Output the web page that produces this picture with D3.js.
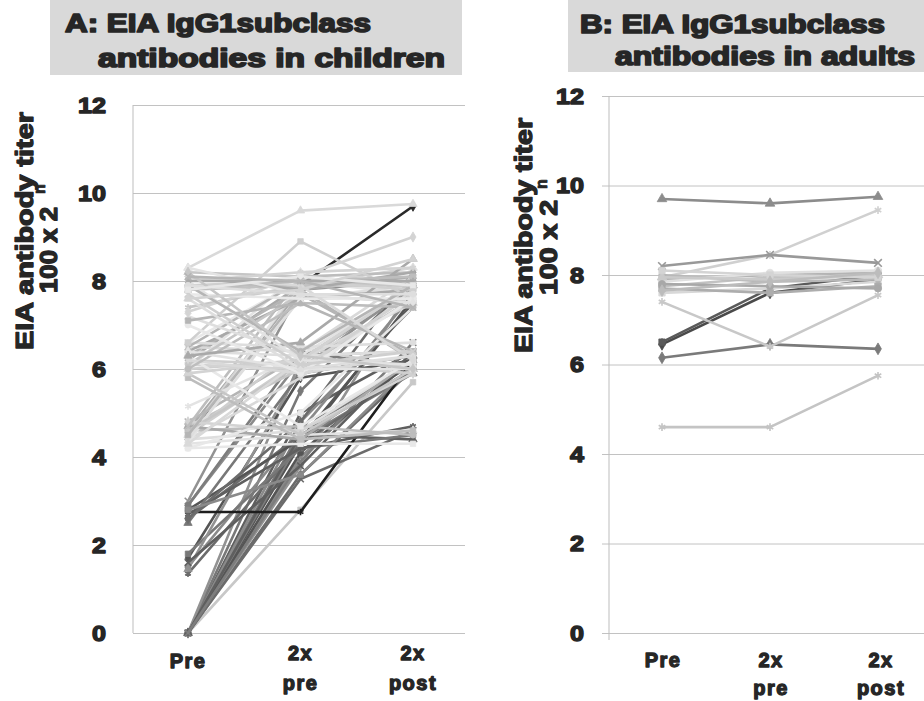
<!DOCTYPE html>
<html>
<head>
<meta charset="utf-8">
<script src="https://cdn.jsdelivr.net/npm/d3@7"></script>
<style>
  html, body { margin: 0; padding: 0; background: #fff; }
  svg { display: block; }
  text { font-family: "Liberation Sans", Arial, sans-serif; font-weight: bold; }
</style>
</head>
<body>
<svg id="chart" width="924" height="701"></svg>
<script>
// ---------------- DATA ----------------
const categories = ["Pre", "2x pre", "2x post"];
const categoryLines = [["Pre"], ["2x", "pre"], ["2x", "post"]];
const yTicks = [0, 2, 4, 6, 8, 10, 12];

const titleA = ["A: EIA IgG1subclass", "antibodies in children"];
const titleB = ["B: EIA IgG1subclass", "antibodies in adults"];
const yTitle = ["EIA antibody titer", "100 x 2", "n"];

// Children (panel A): one value per child at each time point
const childPre = [
  4.4,
  0, 0, 0, 0, 0, 0, 0, 0, 0, 0, 0, 0, 0, 0, 0,
  1.35, 1.5, 1.7, 1.8, 1.45, 1.6,
  2.75, 2.6, 2.9, 2.8, 2.5, 3.0, 2.7, 2.9, 2.6, 2.8,
  4.3, 4.5, 4.6, 4.4, 4.7, 4.2, 4.5, 4.8, 4.4, 4.6, 4.3, 4.5, 4.7, 4.4, 4.6, 4.2, 4.8, 4.5, 4.3, 4.7,
  5.15,
  6.0, 6.2, 6.4, 5.9, 6.6, 6.1, 6.3, 6.5, 5.8, 6.0, 6.2, 6.4, 6.6, 6.1, 6.3, 5.9, 6.5, 6.2, 6.0, 6.4, 6.6, 6.3,
  7.2, 7.4, 7.0, 7.3, 7.1,
  8.3, 7.8, 8.0, 7.9, 8.1, 7.6, 8.2, 7.7, 8.0, 7.9, 8.1, 7.8, 8.3, 7.7, 8.0, 7.9, 8.2, 7.8, 7.6, 8.1
];
const childMid = [
  7.9,
  2.8, 3.6, 4.0, 4.3, 4.6, 3.8, 5.0, 4.4, 3.5, 4.8, 4.1, 5.5, 6.2, 4.5, 3.9,
  4.3, 4.6, 5.8, 4.2, 6.0, 3.8,
  2.75, 4.5, 6.2, 4.4, 5.9, 7.8, 4.2, 6.4, 4.8, 3.6,
  4.5, 6.2, 7.8, 4.6, 6.0, 4.3, 7.9, 6.3, 5.8, 4.7, 8.0, 6.5, 4.4, 7.6, 6.1, 5.0, 4.6, 7.7, 6.2, 8.1,
  6.3,
  6.2, 7.9, 6.3, 4.5, 8.0, 6.0, 7.8, 6.4, 4.4, 8.2, 6.1, 7.6, 6.5, 7.7, 4.7, 6.2, 8.0, 5.9, 7.5, 6.0, 8.9, 6.6,
  6.3, 7.9, 5.9, 8.1, 7.5,
  9.6, 7.9, 6.2, 8.0, 7.8, 6.0, 8.1, 7.6, 8.2, 6.4, 7.9, 8.0, 7.7, 6.1, 8.0, 7.7, 6.3, 8.1, 7.8, 8.0
];
const childPost = [
  9.7,
  5.7, 6.0, 6.3, 7.6, 6.1, 7.9, 6.4, 5.9, 4.6, 7.4, 6.2, 8.0, 7.8, 4.4, 6.6,
  6.0, 7.7, 6.2, 4.5, 7.9, 6.4,
  6.2, 6.0, 7.9, 7.5, 6.3, 8.0, 4.7, 6.0, 8.2, 6.1,
  4.6, 7.9, 8.1, 6.2, 7.6, 4.3, 8.3, 6.4, 7.8, 4.5, 7.7, 6.0, 6.2, 7.9, 8.0, 7.4, 5.9, 6.3, 7.5, 8.2,
  7.9,
  6.1, 8.0, 6.4, 6.0, 7.9, 7.7, 6.2, 8.1, 4.6, 8.3, 5.9, 7.8, 6.6, 7.5, 6.2, 7.9, 8.0, 6.3, 7.4, 6.0, 7.6, 8.5,
  6.0, 7.9, 7.6, 9.0, 6.4,
  9.75, 8.0, 6.1, 7.8, 8.2, 6.3, 7.9, 7.6, 8.3, 7.9, 6.2, 8.1, 7.5, 6.4, 8.0, 7.7, 6.0, 7.9, 8.5, 7.4
];

// Adults (panel B)
const adultPre  = [9.7, 7.95, 8.2, 6.45, 6.5, 6.15, 7.4, 4.6, 7.9, 7.75, 7.6, 8.0, 7.85, 7.7, 7.95, 7.8, 8.1, 7.65];
const adultMid  = [9.6, 8.45, 8.45, 7.6, 7.7, 6.45, 6.4, 4.6, 8.0, 7.95, 7.7, 7.85, 8.05, 7.6, 7.9, 7.75, 8.0, 7.85];
const adultPost = [9.75, 9.45, 8.27, 7.9, 8.0, 6.35, 7.55, 5.75, 8.05, 7.95, 7.85, 7.9, 8.1, 7.75, 8.0, 7.7, 7.95, 8.05];

// ---------------- STYLE ----------------
const darkPal  = ["#5f5f5f", "#7d7d7d", "#6b6b6b", "#8a8a8a", "#555555", "#787878", "#929292"];
const lightPal = ["#d9d9d9", "#bdbdbd", "#e3e3e3", "#cfcfcf", "#a9a9a9", "#dedede", "#c6c6c6", "#e8e8e8", "#d3d3d3", "#b5b5b5"];
const childOverride = { 0: "#2a2a2a", 1: "#c8c8c8", 22: "#1e1e1e", 81: "#c2c2c2" };
const adultColors = ["#8c8c8c", "#d0d0d0", "#999999", "#4a4a4a", "#5a5a5a", "#7a7a7a", "#c8c8c8", "#c4c4c4",
                     "#b4b4b4", "#c2c2c2", "#d8d8d8", "#b8b8b8", "#e0e0e0", "#adadad", "#cacaca", "#a8a8a8", "#d4d4d4", "#bcbcbc"];
const symbolTypes = [d3.symbolDiamond, d3.symbolSquare, d3.symbolTriangle, d3.symbolTimes, d3.symbolAsterisk, d3.symbolCircle];
const adultSymbols = [2, 4, 3, 0, 1, 0, 4, 4, 1, 5, 1, 0, 5, 1, 2, 5, 1, 0];

const svg = d3.select("#chart");
const ink = "#262626";

function childColor(i) {
  if (childOverride[i] !== undefined) return childOverride[i];
  return childPre[i] < 3.1 ? darkPal[i % darkPal.length] : lightPal[i % lightPal.length];
}

function heavyText(sel, size, strokeW) {
  return sel.attr("font-size", size).attr("fill", ink)
    .attr("stroke", ink).attr("stroke-width", strokeW).attr("stroke-linejoin", "round")
    .attr("paint-order", "stroke");
}

function drawPanel(opt) {
  const g = svg.append("g");
  const x = d3.scalePoint().domain(categories).range(opt.xRange);
  const y = d3.scaleLinear().domain([0, 12]).range(opt.yRange);

  // title background + title
  g.append("rect").attr("x", opt.titleBox[0]).attr("y", opt.titleBox[1])
    .attr("width", opt.titleBox[2]).attr("height", opt.titleBox[3]).attr("fill", "#d9d9d9");
  opt.title.forEach((t, k) => {
    heavyText(g.append("text"), 26, 1.7)
      .attr("x", opt.titlePos[k][0]).attr("y", opt.titlePos[k][1])
      .attr("textLength", opt.titlePos[k][2]).attr("lengthAdjust", "spacingAndGlyphs")
      .text(t);
  });

  // grid + tick labels through d3 axis
  const axis = d3.axisLeft(y).tickValues(yTicks)
    .tickSize(-(opt.gridX[1] - opt.gridX[0])).tickPadding(opt.tickPad);
  const ax = g.append("g").attr("transform", `translate(${opt.gridX[0]},0)`).call(axis);
  ax.select(".domain").remove();
  ax.selectAll(".tick line").attr("stroke", "#c2c2c2").attr("stroke-width", 1);
  heavyText(ax.selectAll(".tick text"), 22, 1.4)
    .attr("font-family", "'Liberation Sans', Arial, sans-serif")
    .attr("textLength", d => d >= 10 ? 28 : 14).attr("lengthAdjust", "spacingAndGlyphs");

  // left axis line
  g.append("line").attr("x1", opt.axisX).attr("x2", opt.axisX)
    .attr("y1", y(12)).attr("y2", y(0) + opt.axisExt)
    .attr("stroke", "#bdbdbd").attr("stroke-width", 1);

  // y title
  const yt = opt.yTitle;
  heavyText(g.append("text"), 24, 1.3)
    .attr("transform", `translate(${yt[0][0]},${yt[0][1]}) rotate(-90)`)
    .attr("textLength", yt[0][2]).attr("lengthAdjust", "spacingAndGlyphs").text(yTitle[0]);
  heavyText(g.append("text"), 24, 1.3)
    .attr("transform", `translate(${yt[1][0]},${yt[1][1]}) rotate(-90)`)
    .attr("textLength", yt[1][2]).attr("lengthAdjust", "spacingAndGlyphs").text(yTitle[1]);
  heavyText(g.append("text"), 16, 0.8)
    .attr("transform", `translate(${yt[2][0]},${yt[2][1]}) rotate(-90)`).text(yTitle[2]);

  // category labels
  categories.forEach((c, k) => {
    categoryLines[k].forEach((ln, j) => {
      heavyText(g.append("text"), 20, 1.3)
        .attr("x", x(c) + opt.catDx[k]).attr("y", opt.catY[k][j])
        .attr("text-anchor", "middle").attr("letter-spacing", 1.5).text(ln);
    });
  });

  // series
  const line = d3.line().x((d, k) => x(categories[k])).y(d => y(d));
  const n = opt.pre.length;
  for (let i = 0; i < n; i++) {
    const vals = [opt.pre[i], opt.mid[i], opt.post[i]];
    const col = opt.color(i);
    const sg = g.append("g");
    sg.append("path").attr("d", line(vals)).attr("fill", "none")
      .attr("stroke", col).attr("stroke-width", opt.lw).attr("stroke-linejoin", "round");
    const st = symbolTypes[opt.symbol(i)];
    const stroked = (st === d3.symbolTimes || st === d3.symbolAsterisk);
    vals.forEach((v, k) => {
      sg.append("path")
        .attr("d", d3.symbol().type(st).size(opt.msize)())
        .attr("transform", `translate(${x(categories[k])},${y(v)})`)
        .attr("fill", stroked ? "none" : col)
        .attr("stroke", col).attr("stroke-width", stroked ? 1.6 : 0.8);
    });
  }
}

drawPanel({
  xRange: [188, 413], yRange: [633, 105],
  gridX: [133, 465], axisX: 133, axisExt: 0, tickPad: 27,
  titleBox: [50, 0, 412, 75],
  title: titleA,
  titlePos: [[65, 32, 306], [98, 67, 347]],
  yTitle: [[33, 350, 238], [57, 293, 86], [45, 194]],
  catDx: [0, 0, 0],
  catY: [[668], [660, 690], [660, 690]],
  pre: childPre, mid: childMid, post: childPost,
  color: childColor,
  symbol: i => i % symbolTypes.length,
  lw: 2.6, msize: 30
});

drawPanel({
  xRange: [662, 878], yRange: [633, 96],
  gridX: [602, 924], axisX: 609, axisExt: 7, tickPad: 18,
  titleBox: [568, 0, 356, 72],
  title: titleB,
  titlePos: [[580, 33, 305], [615, 65, 300]],
  yTitle: [[532, 353, 235], [557, 295, 95], [547, 189]],
  catDx: [1, 1, 3],
  catY: [[667], [667, 695], [667, 695]],
  pre: adultPre, mid: adultMid, post: adultPost,
  color: i => adultColors[i],
  symbol: i => adultSymbols[i],
  lw: 2.6, msize: 40
});
</script>
</body>
</html>
